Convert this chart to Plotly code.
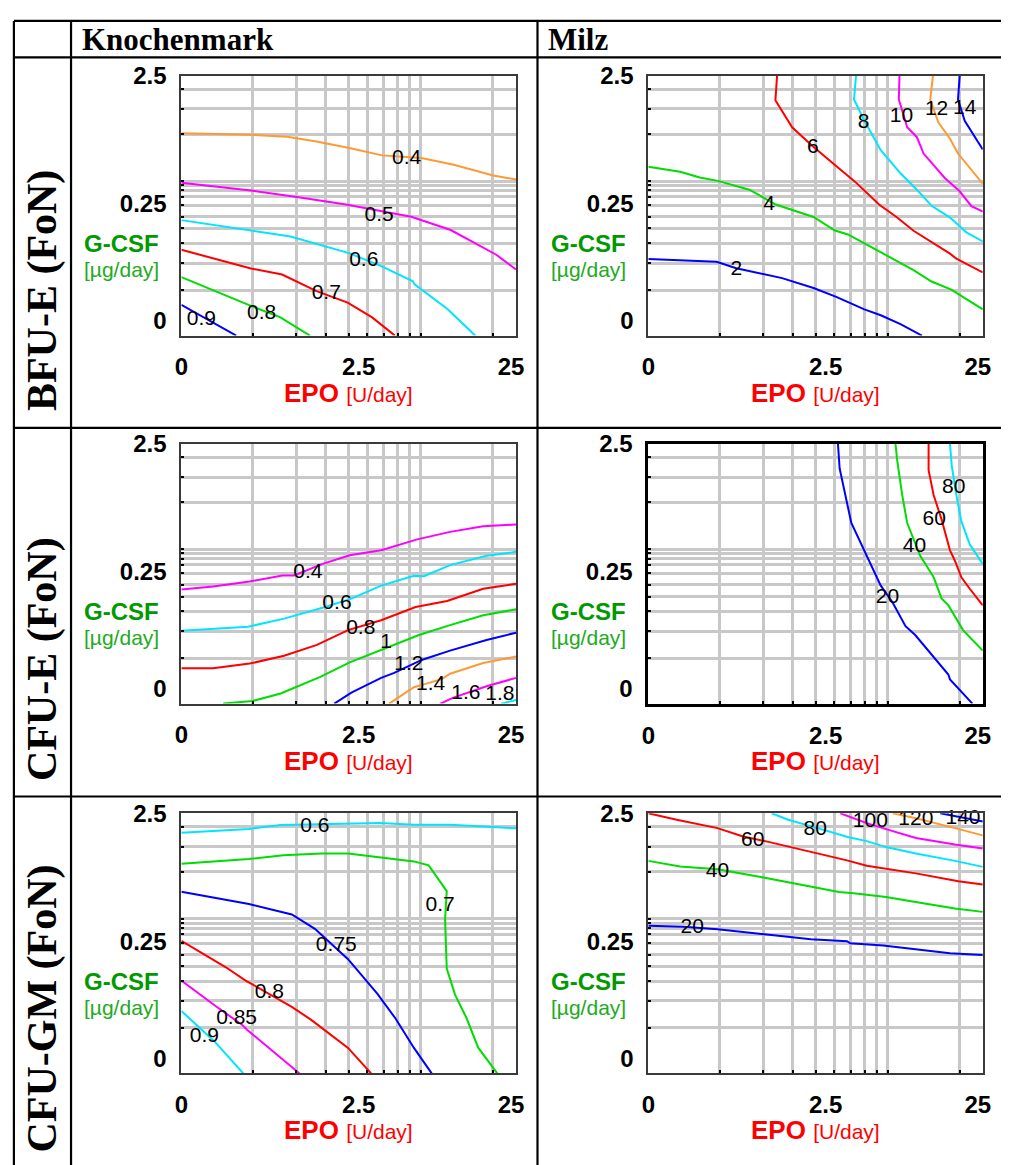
import plotly.graph_objects as go

W, H = 1009, 1165

# ---------------- axis scales (normalised log-dose positions) ----------------
GRID_U = [0.213, 0.343, 0.432, 0.500, 0.556, 0.605, 0.647, 0.683, 0.716, 0.931]
GRID_V = [0.175, 0.279, 0.355, 0.412, 0.457, 0.501, 0.534, 0.558, 0.578, 0.594, 0.775, 0.872, 0.948]
X_TICK_POS = [0.0, 0.53, 0.985]
X_TICK_TEXT = ['0', '2.5', '25']
Y_TICK_POS = [0.058, 0.508, 1.0]
Y_TICK_TEXT = ['0', '0.25', '2.5']

ROW_LABELS = ['BFU-E (FoN)', 'CFU-E (FoN)', 'CFU-GM (FoN)']
COL_LABELS = ['Knochenmark', 'Milz']

# ---------------- BFU-E, Knochenmark ----------------
A_LEVELS = ['0.4', '0.5', '0.6', '0.7', '0.8', '0.9']
A_U = [
    [0, .208, .316, .404, .502, .600, .717, .814, .932, 1],
    [0, .208, .345, .492, .687, .805, .941, 1],
    [0, .208, .326, .501, .599, .692, .697, .795, .878],
    [0, .208, .301, .404, .497, .570, .638],
    [0, .101, .208, .296, .384],
    [0, .164],
]
A_V = [
    [.778, .772, .765, .746, .721, .693, .683, .657, .616, .600],
    [.588, .558, .533, .504, .457, .406, .311, .254],
    [.444, .403, .381, .317, .266, .209, .197, .102, 0],
    [.330, .258, .235, .171, .127, .070, 0],
    [.225, .171, .114, .070, 0],
    [.118, 0],
]
A_LAB_U = [.673, .591, .545, .433, .240, .060]
A_LAB_V = [.681, .461, .288, .162, .085, .061]

# ---------------- BFU-E, Milz ----------------
B_LEVELS = ['2', '4', '6', '8', '10', '12', '14']
B_U = [
    [0, .204, .263, .400, .494, .562, .646, .695, .754, .818],
    [0, .095, .154, .208, .302, .381, .494, .558, .597, .705, .793, .847, .906, 1],
    [.385, .380, .430, .489, .558, .617, .690, .744, .793, .902, .921, 1],
    [.621, .615, .646, .695, .754, .803, .848, .902, .951, 1],
    [.751, .749, .774, .803, .823, .887, .931, .966, 1],
    [.851, .843, .867, .902, .926, .961, 1],
    [.931, .926, .946, .961, 1],
]
B_V = [
    [.295, .284, .259, .221, .183, .149, .101, .078, .044, 0],
    [.649, .630, .608, .595, .561, .504, .456, .404, .389, .315, .252, .208, .177, .101],
    [1, .905, .801, .731, .656, .593, .504, .454, .403, .315, .296, .243],
    [1, .908, .826, .713, .624, .561, .498, .454, .397, .362],
    [1, .908, .801, .763, .700, .605, .555, .498, .477],
    [1, .908, .820, .757, .700, .643, .584],
    [1, .908, .826, .794, .716],
]
B_LAB_U = [.263, .361, .492, .644, .757, .862, .946]
B_LAB_V = [.255, .502, .721, .820, .842, .868, .873]

# ---------------- CFU-E, Knochenmark ----------------
C_LEVELS = ['0.4', '0.6', '0.8', '1', '1.2', '1.4', '1.6', '1.8']
C_U = [
    [0, .095, .204, .302, .337, .420, .503, .597, .705, .803, .902, 1],
    [0, .199, .307, .430, .508, .597, .695, .725, .803, .912, 1],
    [0, .095, .204, .307, .405, .498, .597, .700, .794, .902, 1],
    [.125, .213, .297, .415, .503, .597, .710, .803, .902, 1],
    [.457, .508, .597, .636, .720, .803, .912, 1],
    [.621, .695, .725, .779, .803, .902, 1],
    [.774, .813, .912, 1],
    [.956, 1],
]
C_V = [
    [.439, .451, .470, .493, .493, .537, .571, .590, .632, .661, .683, .689],
    [.280, .296, .327, .372, .404, .454, .492, .490, .533, .569, .584],
    [.136, .136, .154, .184, .226, .283, .321, .372, .395, .442, .461],
    [0, .010, .039, .103, .159, .207, .264, .302, .340, .363],
    [0, .042, .099, .118, .169, .204, .245, .273],
    [0, .063, .074, .095, .115, .156, .181],
    [0, .023, .067, .099],
    [0, .014],
]
C_LAB_U = [.378, .465, .536, .612, .680, .745, .850, .952]
C_LAB_V = [.503, .385, .287, .236, .150, .072, .038, .036]

# ---------------- CFU-E, Milz ----------------
D_LEVELS = ['20', '40', '60', '80']
D_U = [
    [.567, .572, .607, .646, .695, .730, .769, .798, .897, .902, .969],
    [.739, .744, .759, .774, .813, .853, .877, .897, .941, 1],
    [.838, .838, .853, .877, .897, .902, .917, .936, .961, 1],
    [.902, .907, .921, .936, .961, 1],
]
D_V = [
    [1, .905, .695, .588, .454, .390, .298, .264, .112, .093, 0],
    [1, .937, .803, .695, .569, .487, .404, .379, .283, .204],
    [1, .898, .803, .708, .613, .590, .549, .486, .442, .378],
    [1, .918, .803, .701, .613, .537],
]
D_LAB_U = [.715, .796, .855, .913]
D_LAB_V = [.406, .603, .708, .829]

# ---------------- CFU-GM, Knochenmark ----------------
E_LEVELS = ['0.6', '0.7', '0.75', '0.8', '0.85', '0.9']
E_U = [
    [0, .202, .296, .438, .498, .596, .695, .803, .931, 1],
    [0, .202, .305, .419, .498, .606, .695, .739, .793, .788, .793, .818, .852, .887, .944],
    [0, .202, .330, .399, .498, .586, .640, .695, .748],
    [0, .133, .192, .330, .389, .498, .567],
    [0, .099, .182, .197, .353],
    [0, .099, .185],
]
E_V = [
    [.925, .940, .955, .959, .963, .963, .956, .956, .947, .942],
    [.806, .824, .839, .845, .845, .830, .815, .800, .701, .593, .403, .302, .213, .099, 0],
    [.698, .651, .611, .556, .439, .306, .211, .098, 0],
    [.510, .408, .357, .256, .205, .098, 0],
    [.357, .262, .186, .167, 0],
    [.240, .123, 0],
]
E_LAB_U = [.399, .773, .463, .263, .165, .069]
E_LAB_V = [.949, .643, .490, .309, .212, .142]

# ---------------- CFU-GM, Milz ----------------
F_LEVELS = ['20', '40', '60', '80', '100', '120', '140']
F_U = [
    [0, .105, .207, .310, .398, .486, .594, .604, .702, .800, .902, 1],
    [0, .095, .207, .261, .340, .418, .506, .570, .614, .711, .799, .917, 1],
    [0, .085, .207, .281, .359, .437, .496, .594, .653, .702, .800, .927, 1],
    [.369, .418, .506, .599, .653, .711, .800, .917, 1],
    [.574, .653, .711, .800, .917, 1],
    [.731, .800, .917, 1],
    [.873, .927, 1],
]
F_V = [
    [.568, .564, .554, .539, .529, .516, .508, .500, .492, .476, .462, .455],
    [.817, .795, .785, .773, .754, .735, .712, .697, .693, .678, .659, .634, .621],
    [1, .975, .943, .912, .890, .867, .848, .819, .798, .789, .769, .739, .726],
    [1, .975, .943, .908, .893, .870, .845, .817, .794],
    [1, .962, .939, .905, .880, .865],
    [1, .981, .943, .915],
    [1, .987, .968],
]
F_LAB_U = [.131, .207, .312, .499, .664, .800, .941]
F_LAB_V = [.558, .777, .896, .937, .966, .975, .978]

# ---------------- styling ----------------
PAL = {'b': '#0000ff', 'g': '#00dd00', 'r': '#ff0000', 'c': '#00e5ff',
       'm': '#ff00ff', 'o': '#ff9933'}
PANELS = [
    # (row, col, levels, U, V, labU, labV, colour codes)
    (0, 0, A_LEVELS, A_U, A_V, A_LAB_U, A_LAB_V, 'omcrgb'),
    (0, 1, B_LEVELS, B_U, B_V, B_LAB_U, B_LAB_V, 'bgrcmob'),
    (1, 0, C_LEVELS, C_U, C_V, C_LAB_U, C_LAB_V, 'mcrgbomc'),
    (1, 1, D_LEVELS, D_U, D_V, D_LAB_U, D_LAB_V, 'bgrc'),
    (2, 0, E_LEVELS, E_U, E_V, E_LAB_U, E_LAB_V, 'cgbrmc'),
    (2, 1, F_LEVELS, F_U, F_V, F_LAB_U, F_LAB_V, 'bgrcmob'),
]

# pixel layout of plot areas
COL_PX = [(177, 516.7), (651, 990.5)]
ROW_PX = [(62.3, 325.5), (435, 698), (809, 1072.3)]

SANS = 'Liberation Sans, Arial, sans-serif'
SERIF = 'Liberation Serif, Times New Roman, serif'

fig = go.Figure()
annotations = []
layout_axes = {}

for i, (r, c, levels, U, V, LU, LV, cols) in enumerate(PANELS):
    n = i + 1
    xa = 'x' if n == 1 else f'x{n}'
    ya = 'y' if n == 1 else f'y{n}'
    for k, lev in enumerate(levels):
        fig.add_trace(go.Scatter(x=U[k], y=V[k], mode='lines', xaxis=xa, yaxis=ya,
                                 line=dict(color=PAL[cols[k]], width=2),
                                 showlegend=False, hoverinfo='skip'))
    fig.add_trace(go.Scatter(x=LU, y=LV, mode='text', text=levels, xaxis=xa, yaxis=ya,
                             textfont=dict(family=SANS, size=21, color='black'),
                             textposition='middle center', cliponaxis=False,
                             showlegend=False, hoverinfo='skip'))
    x0, x1 = COL_PX[c]
    y0, y1 = ROW_PX[r]
    frame_col = '#000000' if (r, c) == (1, 1) else '#3a3a3a'
    frame_w = 3 if (r, c) == (1, 1) else 2
    common = dict(range=[0, 1], showgrid=False, zeroline=False, ticks='',
                  showline=True, linecolor=frame_col, linewidth=frame_w, mirror=True,
                  tickfont=dict(family=SANS, size=24, color='black', weight='bold'),
                  fixedrange=True)
    layout_axes['xaxis' if n == 1 else f'xaxis{n}'] = dict(
        common, domain=[x0 / W, x1 / W], anchor=ya,
        tickmode='array', tickvals=X_TICK_POS, ticktext=X_TICK_TEXT,
        ticklabelstandoff=9,
        minor=dict(tickmode='array', tickvals=GRID_U, showgrid=True, gridcolor='#c8c8c8',
                   gridwidth=3, ticks='inside', ticklen=3, tickwidth=2, tickcolor='black'))
    layout_axes['yaxis' if n == 1 else f'yaxis{n}'] = dict(
        common, domain=[1 - y1 / H, 1 - y0 / H], anchor=xa,
        tickmode='array', tickvals=Y_TICK_POS, ticktext=Y_TICK_TEXT,
        ticklabelstandoff=8,
        minor=dict(tickmode='array', tickvals=GRID_V, showgrid=True, gridcolor='#c8c8c8',
                   gridwidth=3, ticks='inside', ticklen=3, tickwidth=2, tickcolor='black'))
    xd = 'x domain' if n == 1 else f'x{n} domain'
    yd = 'y domain' if n == 1 else f'y{n} domain'
    annotations.append(dict(xref=xd, yref=yd, x=-0.06, y=0.355, xanchor='right', yanchor='middle',
                            text='<b>G-CSF</b>', showarrow=False,
                            font=dict(family=SANS, size=24, color='#009a00')))
    annotations.append(dict(xref=xd, yref=yd, x=-0.06, y=0.255, xanchor='right', yanchor='middle',
                            text='[µg/day]', showarrow=False,
                            font=dict(family=SANS, size=21, color='#22aa22')))
    annotations.append(dict(xref=xd, yref=yd, x=0.5, y=-0.219, xanchor='center', yanchor='middle',
                            text='<b>EPO</b> <span style="font-size:21px">[U/day]</span>',
                            showarrow=False, font=dict(family=SANS, size=26, color='#ff0000')))

# header texts
annotations.append(dict(xref='paper', yref='paper', x=74 / W, y=1 - 26 / H, xanchor='left',
                        yanchor='middle', text='<b>' + COL_LABELS[0] + '</b>', showarrow=False,
                        font=dict(family=SERIF, size=31, color='black')))
annotations.append(dict(xref='paper', yref='paper', x=547 / W, y=1 - 26 / H, xanchor='left',
                        yanchor='middle', text='<b>' + COL_LABELS[1] + '</b>', showarrow=False,
                        font=dict(family=SERIF, size=31, color='black')))
ROW_BOTTOM_PX = [404, 778, 1154]
for k, lab in enumerate(ROW_LABELS):
    annotations.append(dict(xref='paper', yref='paper', x=36 / W, y=1 - ROW_BOTTOM_PX[k] / H,
                            xanchor='center', yanchor='bottom', textangle=-90,
                            text='<b>' + lab + '</b>', showarrow=False,
                            font=dict(family=SERIF, size=42, color='black')))

# table lines
shapes = []
for ypx in [7, 44, 419, 792]:
    shapes.append(dict(type='line', xref='paper', yref='paper', x0=7 / W, x1=1,
                       y0=1 - ypx / H, y1=1 - ypx / H, line=dict(color='black', width=2.2)))
for xpx in [7, 65, 538.5]:
    shapes.append(dict(type='line', xref='paper', yref='paper', x0=xpx / W, x1=xpx / W,
                       y0=1 - 7 / H, y1=0, line=dict(color='black', width=2.2)))

fig.update_layout(width=W, height=H, margin=dict(l=0, r=0, t=0, b=0),
                  paper_bgcolor='white', plot_bgcolor='white', showlegend=False,
                  annotations=annotations, shapes=shapes, **layout_axes)

fig.write_html('out.html',
               post_script="document.body.style.margin='0';document.body.style.padding='0';")
